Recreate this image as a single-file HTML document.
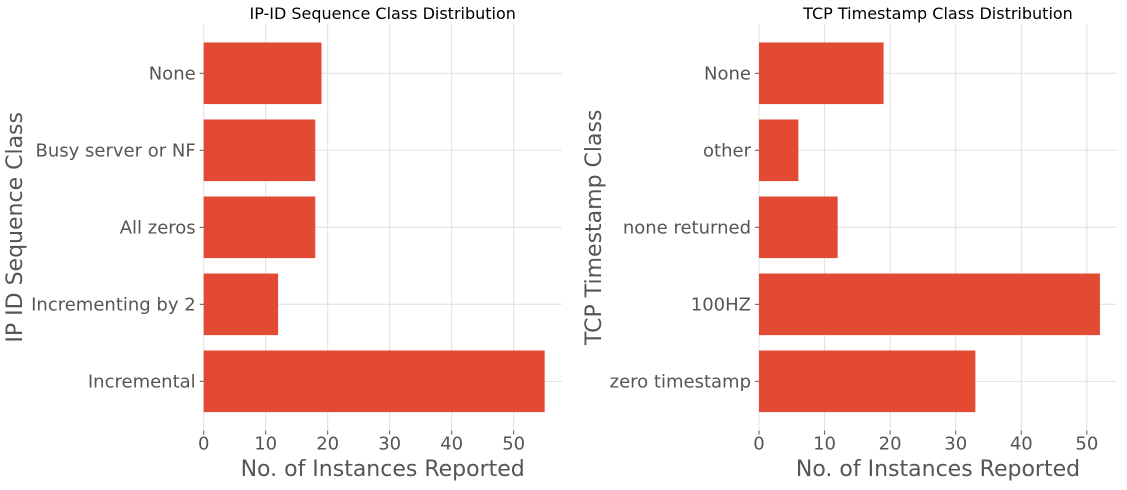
<!DOCTYPE html>
<html><head><meta charset="utf-8"><style>
body{margin:0;background:#fff;font-family:"DejaVu Sans","Liberation Sans",sans-serif;}
svg text{font-family:"DejaVu Sans","Liberation Sans",sans-serif;}
</style></head><body>
<svg id="c" width="1127" height="486" xmlns="http://www.w3.org/2000/svg"></svg>
<script>
const leftCats = ["None","Busy server or NF","All zeros","Incrementing by 2","Incremental"];
const leftVals = [19,18,18,12,55];
const rightCats = ["None","other","none returned","100HZ","zero timestamp"];
const rightVals = [19,6,12,52,33];
const xTicks = [0,10,20,30,40,50];
const svg = document.getElementById('c');
const NS = "http://www.w3.org/2000/svg";
function mk(tag, attrs, parent){const e=document.createElementNS(NS,tag);for(const k in attrs)e.setAttribute(k,attrs[k]);(parent||svg).appendChild(e);return e;}
function panel(key, x0, x1, cats, vals, title, ytitle, ytx){
  const top=24, bottom=430.6;
  const n=cats.length;
  const xmax=Math.max(...vals)*1.05;
  const xs=v=>x0+(v/xmax)*(x1-x0);
  const ylo=-0.64, yhi=n-1+0.64;
  const ys=i=>{const idx=n-1-i;return bottom-(idx-ylo)/(yhi-ylo)*(bottom-top);};
  const unit=(bottom-top)/(yhi-ylo);
  const g=mk('g',{});
  
  
  xTicks.forEach(t=>{
    const l=mk('line',{x1:xs(t),x2:xs(t),y1:top,y2:bottom,stroke:'#e0e0e0','stroke-width':1},g);
    
    
    mk('line',{x1:xs(t),x2:xs(t),y1:bottom,y2:bottom+4,stroke:'#555'},g);
    const tx=mk('text',{x:xs(t),y:bottom+19,'text-anchor':'middle','font-size':18,fill:'#555'},g);
    tx.textContent=t;
    
    
  });
  cats.forEach((c,i)=>{
    const l=mk('line',{x1:x0,x2:x1,y1:ys(i),y2:ys(i),stroke:'#e0e0e0','stroke-width':1},g);
    
    
  });
  cats.forEach((c,i)=>{
    const h=unit*0.8;
    const r=mk('rect',{x:x0,y:ys(i)-h/2,width:xs(vals[i])-x0,height:h,fill:'#E24A33'},g);
    
    
    mk('line',{x1:x0-4,x2:x0,y1:ys(i),y2:ys(i),stroke:'#555'},g);
    const tx=mk('text',{x:x0-8,y:ys(i)+6,'text-anchor':'end','font-size':18,fill:'#555'},g);
    tx.textContent=c;
    
    
  });
  const t=mk('text',{x:(x0+x1)/2,y:19,'text-anchor':'middle','font-size':16,fill:'#000'},g);
  t.textContent=title;
  
  
  const xl=mk('text',{x:(x0+x1)/2,y:476,'text-anchor':'middle','font-size':22,fill:'#555'},g);
  xl.textContent="No. of Instances Reported";
  
  
  const cy=(top+bottom)/2;
  const yl=mk('text',{x:ytx,y:cy,'text-anchor':'middle','font-size':22,fill:'#555',transform:`rotate(-90 ${ytx} ${cy})`},g);
  yl.textContent=ytitle;
  
  
}
panel('left',203.7,561.7,leftCats,leftVals,'IP-ID Sequence Class Distribution','IP ID Sequence Class',22);
panel('right',759,1117,rightCats,rightVals,'TCP Timestamp Class Distribution','TCP Timestamp Class',601);
</script>
</body></html>
